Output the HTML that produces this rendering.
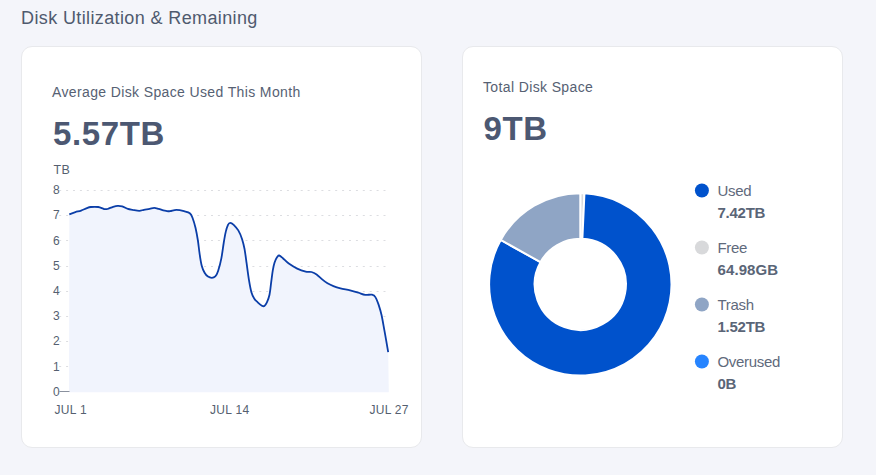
<!DOCTYPE html>
<html>
<head>
<meta charset="utf-8">
<style>
html,body{margin:0;padding:0;}
body{width:876px;height:475px;background:#f4f5fa;font-family:"Liberation Sans",sans-serif;position:relative;overflow:hidden;color:#4a5568;}
.abs{position:absolute;white-space:nowrap;}
.h{left:21px;top:7px;font-size:18px;color:#4f5a6e;line-height:22px;letter-spacing:0.38px;}
.card{position:absolute;background:#fff;border:1px solid #e8e9ec;border-radius:11px;box-sizing:border-box;}
.sub{font-size:14px;color:#566173;line-height:16px;letter-spacing:0.37px;}
.big{font-size:33px;font-weight:bold;color:#4c5872;line-height:36px;letter-spacing:0.6px;}
.ax{font-size:12px;color:#555f70;line-height:14px;}
.lg{font-size:15px;color:#5f6a7c;line-height:17px;letter-spacing:-0.3px;}
.lv{font-size:15px;font-weight:bold;color:#5a6577;line-height:17px;letter-spacing:-0.25px;}
.dot{position:absolute;width:14px;height:14px;border-radius:50%;}
</style>
</head>
<body>
<div class="abs h">Disk Utilization &amp; Remaining</div>
<div class="card" style="left:21px;top:46px;width:401px;height:402px;"></div>
<div class="card" style="left:462px;top:46px;width:381px;height:402px;"></div>

<div class="abs sub" style="left:52px;top:84px;">Average Disk Space Used This Month</div>
<div class="abs big" style="left:53px;top:116px;">5.57TB</div>
<div class="abs ax" style="left:53.5px;top:163px;font-size:12.5px;letter-spacing:0.3px;">TB</div>

<svg class="abs" style="left:0;top:0;" width="876" height="475" viewBox="0 0 876 475">
  <g stroke="#dcdde1" stroke-width="1" stroke-dasharray="2 4.9"><line x1="59.2" y1="190.5" x2="387" y2="190.5"/><line x1="59.2" y1="215.5" x2="387" y2="215.5"/><line x1="59.2" y1="240.5" x2="387" y2="240.5"/><line x1="59.2" y1="266.5" x2="387" y2="266.5"/><line x1="59.2" y1="291.5" x2="387" y2="291.5"/><line x1="59.2" y1="316.5" x2="387" y2="316.5"/><line x1="59.2" y1="341.5" x2="387" y2="341.5"/><line x1="59.2" y1="366.5" x2="387" y2="366.5"/></g>
  <path id="area" fill="#f1f4fd" stroke="none" d="M69.3,214.3 C70.3,213.9 73.4,212.7 75.4,212.1 C77.4,211.5 79.2,211.3 81.1,210.6 C83.0,209.9 85.2,208.7 86.8,208.1 C88.4,207.5 88.9,207.2 90.8,207.0 C92.7,206.8 96.0,206.7 98.2,207.0 C100.4,207.3 102.5,208.7 104.0,209.0 C105.5,209.3 105.9,209.4 107.4,209.0 C108.9,208.6 111.4,207.3 113.1,206.8 C114.8,206.3 116.2,205.9 117.7,205.8 C119.2,205.7 120.5,205.9 122.2,206.4 C123.9,206.9 126.2,208.3 127.9,208.9 C129.6,209.5 130.6,209.5 132.5,209.8 C134.4,210.1 137.4,210.8 139.3,210.8 C141.2,210.8 142.2,210.1 143.9,209.8 C145.6,209.5 147.9,209.2 149.6,208.9 C151.3,208.6 152.7,207.9 154.2,207.9 C155.7,207.9 157.2,208.5 158.7,208.9 C160.2,209.3 162.1,210.1 163.3,210.4 C164.5,210.7 164.9,210.8 166.0,210.9 C167.1,211.0 168.4,211.4 170.1,211.2 C171.8,211.0 174.1,209.9 176.4,209.9 C178.7,209.9 181.8,210.6 184.0,211.2 C186.2,211.8 188.4,212.1 189.8,213.2 C191.2,214.3 191.6,215.3 192.5,217.7 C193.4,220.1 194.6,224.0 195.5,227.8 C196.4,231.6 197.2,236.1 197.9,240.5 C198.6,244.9 199.0,250.1 199.7,254.3 C200.3,258.6 201.0,262.9 201.8,266.0 C202.6,269.1 203.6,271.0 204.6,272.8 C205.6,274.6 206.8,275.8 208.0,276.6 C209.2,277.4 210.6,277.8 211.8,277.8 C213.0,277.8 214.2,277.5 215.3,276.4 C216.4,275.3 217.1,274.1 218.1,271.0 C219.1,267.9 220.5,262.8 221.4,258.1 C222.3,253.4 223.0,247.4 223.7,243.0 C224.4,238.6 225.1,234.6 225.8,231.6 C226.5,228.6 227.3,226.3 228.0,224.8 C228.7,223.3 229.2,222.8 230.2,222.8 C231.1,222.8 232.3,223.5 233.7,224.8 C235.0,226.1 236.9,228.0 238.3,230.4 C239.7,232.8 241.1,236.0 242.1,239.2 C243.1,242.3 243.8,245.3 244.6,249.3 C245.3,253.3 245.9,258.1 246.6,263.2 C247.3,268.2 248.1,274.8 248.9,279.6 C249.7,284.4 250.5,289.1 251.4,292.2 C252.3,295.3 253.1,296.8 254.2,298.5 C255.2,300.2 256.4,301.1 257.7,302.3 C259.0,303.5 260.8,305.1 261.9,305.7 C263.0,306.3 263.6,306.6 264.4,306.0 C265.2,305.4 266.0,304.2 266.9,302.3 C267.8,300.4 268.8,297.9 269.5,294.7 C270.2,291.5 270.6,287.0 271.1,282.9 C271.7,278.8 272.2,273.7 272.8,270.3 C273.4,266.9 273.8,264.9 274.5,262.7 C275.2,260.5 276.2,258.5 277.0,257.3 C277.8,256.1 278.2,255.3 279.2,255.5 C280.2,255.7 281.3,256.8 282.9,258.2 C284.5,259.6 286.4,261.9 288.8,263.6 C291.2,265.3 294.4,267.3 297.2,268.6 C300.0,269.9 303.3,271.0 305.7,271.6 C308.1,272.2 309.7,271.5 311.5,272.0 C313.3,272.5 314.8,273.2 316.6,274.5 C318.4,275.8 320.7,278.1 322.5,279.6 C324.3,281.1 325.7,282.2 327.5,283.3 C329.3,284.4 331.2,285.2 333.4,286.1 C335.6,287.0 337.7,287.7 340.5,288.4 C343.3,289.1 347.1,289.6 350.1,290.3 C353.1,291.0 355.9,291.9 358.4,292.7 C360.9,293.5 362.9,294.6 365.2,294.9 C367.5,295.2 370.3,294.3 372.0,294.7 C373.7,295.1 374.5,295.6 375.6,297.4 C376.8,299.2 377.9,302.6 378.9,305.6 C379.9,308.6 380.7,311.1 381.6,315.2 C382.5,319.3 383.6,326.0 384.4,330.3 C385.2,334.6 385.7,337.6 386.3,341.2 C386.9,344.8 387.9,350.4 388.2,352.2 L388.8,392.3 L69,392.3 Z"/>
  <path id="line" fill="none" stroke="#0b3ea8" stroke-width="1.8" stroke-linejoin="round" stroke-linecap="butt" d="M69.3,214.3 C70.3,213.9 73.4,212.7 75.4,212.1 C77.4,211.5 79.2,211.3 81.1,210.6 C83.0,209.9 85.2,208.7 86.8,208.1 C88.4,207.5 88.9,207.2 90.8,207.0 C92.7,206.8 96.0,206.7 98.2,207.0 C100.4,207.3 102.5,208.7 104.0,209.0 C105.5,209.3 105.9,209.4 107.4,209.0 C108.9,208.6 111.4,207.3 113.1,206.8 C114.8,206.3 116.2,205.9 117.7,205.8 C119.2,205.7 120.5,205.9 122.2,206.4 C123.9,206.9 126.2,208.3 127.9,208.9 C129.6,209.5 130.6,209.5 132.5,209.8 C134.4,210.1 137.4,210.8 139.3,210.8 C141.2,210.8 142.2,210.1 143.9,209.8 C145.6,209.5 147.9,209.2 149.6,208.9 C151.3,208.6 152.7,207.9 154.2,207.9 C155.7,207.9 157.2,208.5 158.7,208.9 C160.2,209.3 162.1,210.1 163.3,210.4 C164.5,210.7 164.9,210.8 166.0,210.9 C167.1,211.0 168.4,211.4 170.1,211.2 C171.8,211.0 174.1,209.9 176.4,209.9 C178.7,209.9 181.8,210.6 184.0,211.2 C186.2,211.8 188.4,212.1 189.8,213.2 C191.2,214.3 191.6,215.3 192.5,217.7 C193.4,220.1 194.6,224.0 195.5,227.8 C196.4,231.6 197.2,236.1 197.9,240.5 C198.6,244.9 199.0,250.1 199.7,254.3 C200.3,258.6 201.0,262.9 201.8,266.0 C202.6,269.1 203.6,271.0 204.6,272.8 C205.6,274.6 206.8,275.8 208.0,276.6 C209.2,277.4 210.6,277.8 211.8,277.8 C213.0,277.8 214.2,277.5 215.3,276.4 C216.4,275.3 217.1,274.1 218.1,271.0 C219.1,267.9 220.5,262.8 221.4,258.1 C222.3,253.4 223.0,247.4 223.7,243.0 C224.4,238.6 225.1,234.6 225.8,231.6 C226.5,228.6 227.3,226.3 228.0,224.8 C228.7,223.3 229.2,222.8 230.2,222.8 C231.1,222.8 232.3,223.5 233.7,224.8 C235.0,226.1 236.9,228.0 238.3,230.4 C239.7,232.8 241.1,236.0 242.1,239.2 C243.1,242.3 243.8,245.3 244.6,249.3 C245.3,253.3 245.9,258.1 246.6,263.2 C247.3,268.2 248.1,274.8 248.9,279.6 C249.7,284.4 250.5,289.1 251.4,292.2 C252.3,295.3 253.1,296.8 254.2,298.5 C255.2,300.2 256.4,301.1 257.7,302.3 C259.0,303.5 260.8,305.1 261.9,305.7 C263.0,306.3 263.6,306.6 264.4,306.0 C265.2,305.4 266.0,304.2 266.9,302.3 C267.8,300.4 268.8,297.9 269.5,294.7 C270.2,291.5 270.6,287.0 271.1,282.9 C271.7,278.8 272.2,273.7 272.8,270.3 C273.4,266.9 273.8,264.9 274.5,262.7 C275.2,260.5 276.2,258.5 277.0,257.3 C277.8,256.1 278.2,255.3 279.2,255.5 C280.2,255.7 281.3,256.8 282.9,258.2 C284.5,259.6 286.4,261.9 288.8,263.6 C291.2,265.3 294.4,267.3 297.2,268.6 C300.0,269.9 303.3,271.0 305.7,271.6 C308.1,272.2 309.7,271.5 311.5,272.0 C313.3,272.5 314.8,273.2 316.6,274.5 C318.4,275.8 320.7,278.1 322.5,279.6 C324.3,281.1 325.7,282.2 327.5,283.3 C329.3,284.4 331.2,285.2 333.4,286.1 C335.6,287.0 337.7,287.7 340.5,288.4 C343.3,289.1 347.1,289.6 350.1,290.3 C353.1,291.0 355.9,291.9 358.4,292.7 C360.9,293.5 362.9,294.6 365.2,294.9 C367.5,295.2 370.3,294.3 372.0,294.7 C373.7,295.1 374.5,295.6 375.6,297.4 C376.8,299.2 377.9,302.6 378.9,305.6 C379.9,308.6 380.7,311.1 381.6,315.2 C382.5,319.3 383.6,326.0 384.4,330.3 C385.2,334.6 385.7,337.6 386.3,341.2 C386.9,344.8 387.9,350.4 388.2,352.2"/>
  <line x1="59.5" y1="391.5" x2="69.5" y2="391.5" stroke="#8a919e" stroke-width="1"/>
</svg>

<div class="abs ax" style="left:53px;top:183.2px;">8</div>
<div class="abs ax" style="left:53px;top:208.4px;">7</div>
<div class="abs ax" style="left:53px;top:233.6px;">6</div>
<div class="abs ax" style="left:53px;top:258.8px;">5</div>
<div class="abs ax" style="left:53px;top:284.0px;">4</div>
<div class="abs ax" style="left:53px;top:309.2px;">3</div>
<div class="abs ax" style="left:53px;top:334.4px;">2</div>
<div class="abs ax" style="left:53px;top:359.6px;">1</div>
<div class="abs ax" style="left:53px;top:384.8px;">0</div>
<div class="abs ax" style="left:54.5px;top:403px;letter-spacing:0.3px;">JUL 1</div>
<div class="abs ax" style="left:210px;top:403px;letter-spacing:0.3px;">JUL 14</div>
<div class="abs ax" style="left:369.4px;top:403px;letter-spacing:0.3px;">JUL 27</div>

<div class="abs sub" style="left:483px;top:79px;">Total Disk Space</div>
<div class="abs big" style="left:483.5px;top:111px;">9TB</div>

<svg class="abs" style="left:0;top:0;" width="876" height="475" viewBox="0 0 876 475">
  <g id="dots"><circle cx="701.9" cy="190.5" r="7" fill="#0052cc"/><circle cx="701.9" cy="247.5" r="7" fill="#d8d9db"/><circle cx="701.9" cy="304.5" r="7" fill="#8fa5c5"/><circle cx="701.9" cy="361.5" r="7" fill="#2684ff"/></g>
  <g id="donut"><path d="M580.30,193.20 A91.20,91.20 0 0 1 584.44,193.29 L582.37,238.85 A45.60,45.60 0 0 0 580.30,238.80 Z" fill="#d8d9db" stroke="#fff" stroke-width="2" stroke-linejoin="round"/><path d="M584.44,193.29 A91.20,91.20 0 1 1 500.69,239.91 L540.49,262.15 A45.60,45.60 0 1 0 582.37,238.85 Z" fill="#0052cc" stroke="#fff" stroke-width="2" stroke-linejoin="round"/><path d="M500.69,239.91 A91.20,91.20 0 0 1 580.30,193.20 L580.30,238.80 A45.60,45.60 0 0 0 540.49,262.15 Z" fill="#8fa5c5" stroke="#fff" stroke-width="2" stroke-linejoin="round"/></g>
</svg>

<div class="abs lg" style="left:717.5px;top:182px;">Used</div>
<div class="abs lv" style="left:717.5px;top:204px;">7.42TB</div>
<div class="abs lg" style="left:717.5px;top:239px;">Free</div>
<div class="abs lv" style="left:717.5px;top:261px;letter-spacing:0.1px;">64.98GB</div>
<div class="abs lg" style="left:717.5px;top:296px;">Trash</div>
<div class="abs lv" style="left:717.5px;top:318px;">1.52TB</div>
<div class="abs lg" style="left:717.5px;top:353px;">Overused</div>
<div class="abs lv" style="left:717.5px;top:375px;">0B</div>
</body>
</html>
